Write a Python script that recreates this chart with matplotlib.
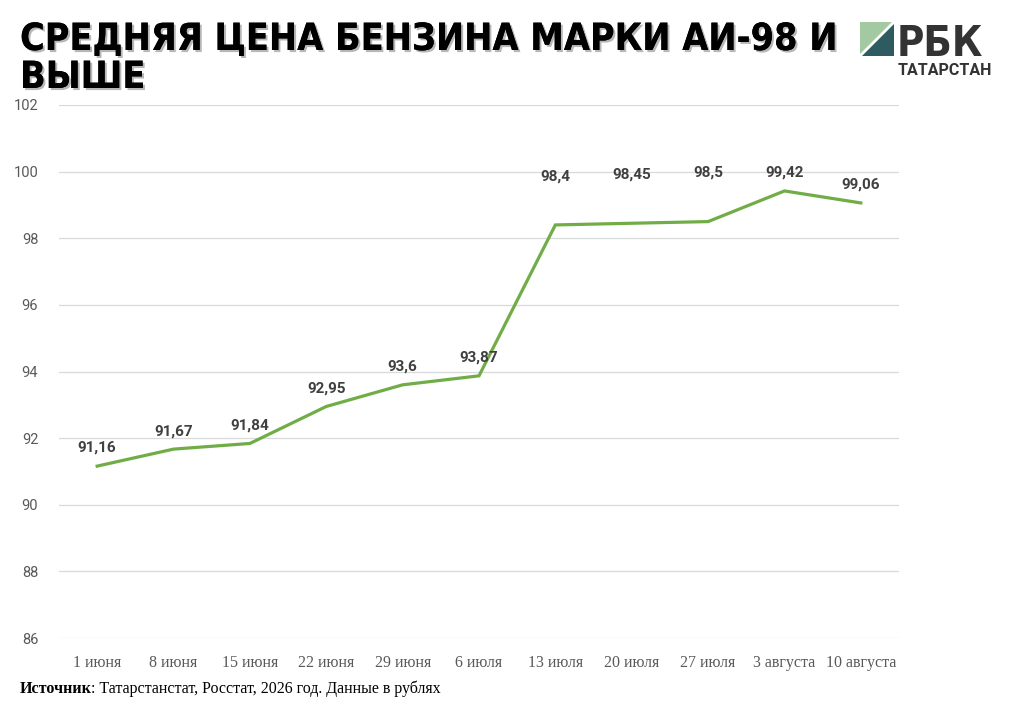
import matplotlib
matplotlib.use("Agg")
import matplotlib.pyplot as plt
import matplotlib.patheffects as pe
from matplotlib.patches import Polygon

categories = ["1 июня", "8 июня", "15 июня", "22 июня", "29 июня", "6 июля",
              "13 июля", "20 июля", "27 июля", "3 августа", "10 августа"]
prices = [91.16, 91.67, 91.84, 92.95, 93.6, 93.87, 98.4, 98.45, 98.5, 99.42, 99.06]
labels = ["91,16", "91,67", "91,84", "92,95", "93,6", "93,87", "98,4", "98,45", "98,5", "99,42", "99,06"]
yticks = [86, 88, 90, 92, 94, 96, 98, 100, 102]

W, H = 1013, 715
fig = plt.figure(figsize=(W / 100, H / 100), dpi=100)
fig.patch.set_facecolor("white")

ax = fig.add_axes([59 / W, 1 - 638 / H, 840 / W, 533 / H])
x = list(range(len(categories)))
ax.plot(x, prices, color="#70ad47", lw=2.3, solid_joinstyle="miter", zorder=3)
ax.set_xlim(-0.5, len(categories) - 0.5)
ax.set_ylim(86, 102)
ax.set_yticks(yticks)
ax.set_yticklabels([str(t) for t in yticks], fontfamily="Roboto", fontsize=10.5, color="#595959")
ax.set_xticks(x)
ax.set_xticklabels(categories, fontfamily="Liberation Serif", fontsize=11.5, color="#595959")
ax.tick_params(axis="both", length=0)
ax.tick_params(axis="y", pad=15)
ax.tick_params(axis="x", pad=12)
ax.grid(axis="y", color="#d9d9d9", lw=0.9)
ax.set_axisbelow(True)
for s in ax.spines.values():
    s.set_visible(False)

offsets = [13, 13, 13, 13, 13, 13, 35, 35, 35, 13, 13]
for xi, yi, lab, off in zip(x, prices, labels, offsets):
    ax.annotate(lab, (xi, yi), xytext=(0, off), textcoords="offset points",
                ha="center", va="center", fontfamily="Roboto", fontweight="bold",
                fontsize=11, color="#404040")

# Title
title_kw = dict(fontfamily="DejaVu Sans", fontweight="heavy", fontstretch="condensed",
                fontsize=27, color="black", ha="left", va="baseline",
                path_effects=[pe.withSimplePatchShadow(offset=(1.5, -1.5), shadow_rgbFace="#888888", alpha=0.6), pe.Normal()])
fig.text(20 / W, 1 - 50 / H, "СРЕДНЯЯ ЦЕНА БЕНЗИНА МАРКИ АИ-98 И", **title_kw)
fig.text(20 / W, 1 - 88 / H, "ВЫШЕ", **title_kw)

# Logo
lx0, ly0, lx1, ly1 = 860, 22, 894, 56
def fp(px, py):
    return (px / W, 1 - py / H)
g = 2
fig.patches.append(Polygon([fp(lx0, ly0), fp(lx1 - g, ly0), fp(lx0, ly1 - g)], closed=True,
                           transform=fig.transFigure, facecolor="#a3c9a3", edgecolor="none"))
fig.patches.append(Polygon([fp(lx1, ly0 + g), fp(lx1, ly1), fp(lx0 + g, ly1)], closed=True,
                           transform=fig.transFigure, facecolor="#2e5b60", edgecolor="none"))
fig.text(897 / W, 1 - 56 / H, "РБК", fontfamily="DejaVu Sans", fontweight="bold",
         fontsize=30, fontstretch="condensed", color="#333333", ha="left", va="baseline")
fig.text(945 / W, 1 - 75 / H, "ТАТАРСТАН", fontfamily="Roboto", fontweight="bold",
         fontsize=11.5, color="#333333", ha="center", va="baseline")

# Source
fig.text(20 / W, 1 - 693 / H, "Источник", fontfamily="Liberation Serif", fontweight="bold",
         fontsize=11.5, color="black", ha="left", va="baseline")
fig.text(91 / W, 1 - 693 / H, ": Татарстанстат, Росстат, 2026 год. Данные в рублях",
         fontfamily="Liberation Serif", fontsize=11.5, color="black", ha="left", va="baseline")

fig.savefig("out.png", dpi=100)
